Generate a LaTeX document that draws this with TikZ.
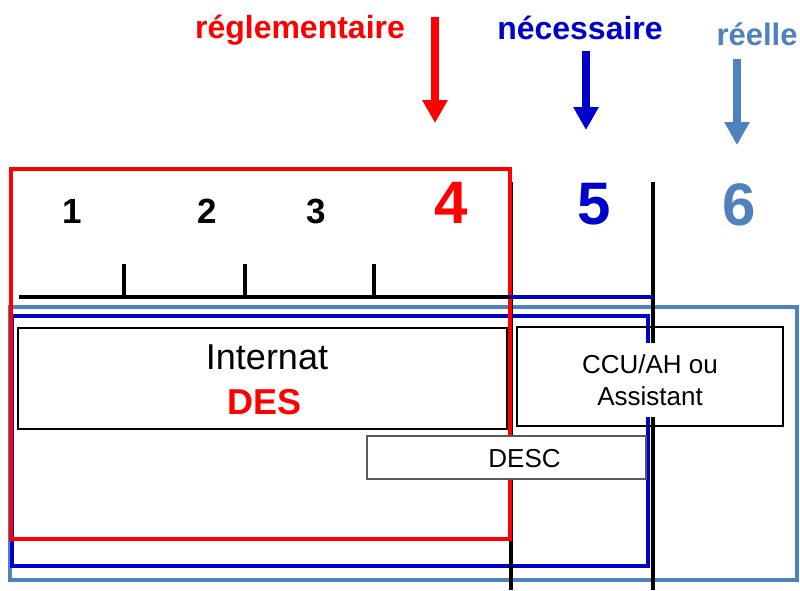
\documentclass[tikz,border=0pt]{standalone}
\usepackage{fontspec}
\setmainfont{Liberation Sans}
\usepackage{tikz}
\usetikzlibrary{arrows.meta}
\usetikzlibrary{calc}
\usepackage{xcolor}
\definecolor{myRed}{rgb}{1,0,0}
\definecolor{myBlue}{rgb}{0,0,0.8}
\definecolor{mySteel}{RGB}{79,129,189}
\tikzset{
  down arrow/.style={line width=8pt, -{Triangle[width=24pt,length=23pt]}},
  frame line/.style={line width=3.5pt},
  top label/.style={anchor=base, font=\fontsize{32}{36}\selectfont\bfseries},
  year label/.style={anchor=base, font=\fontsize{35}{40}\selectfont\bfseries},
  big year label/.style={anchor=base, font=\fontsize{60}{66}\selectfont\bfseries},
  period box/.style={draw, line width=2.5pt, inner sep=0pt},
  period text/.style={anchor=base, font=\fontsize{36}{40}\selectfont},
  small text/.style={anchor=base, font=\fontsize{26}{30}\selectfont},
}

\begin{document}
\begin{tikzpicture}[x=1pt,y=-1pt]

%%%%%%%%%%%%%%%%%%%%%%%%%%%%%%%%%%%%%%%%%%%%%%%%%%%%%%%%%%%%%% Setup
% just to have nice boundaries to the picture
\useasboundingbox (0,0) rectangle (800,590);

%%%%%%%%%%%%%%%%%%%%%%%%%%%%%%%%%%%%%%%%%%%%%%%%%%%%%%%%%%%%%% Frames
\draw[mySteel, frame line] (10,307) rectangle (797,580);
\draw[myBlue, frame line] (12,316) rectangle (648,566);
\coordinate (V4top) at (511,182);
\coordinate (V4bot) at (511,590);
\coordinate (V5top) at (653,182);
\coordinate (V5bot) at (653,590);
\draw[black, frame line] (V4top) -- (V4bot);
\draw[black, frame line] (V5top) -- (V5bot);
\draw[myRed, frame line] (11,169) rectangle (510,539);

%%%%%%%%%%%%%%%%%%%%%%%%%%%%%%%%%%%%%%%%%%%%%%%%%%%%%%%%%%%%%% Timeline
\coordinate (A0) at (19,297);
\coordinate (A4) at (510,297);
\coordinate (A5) at (653,297);
\draw[black, line width=4.5pt] (A0) -- (A4);
\draw[myBlue, line width=4.5pt] (A4) -- (A5);
\foreach \x in {124,245,374}
\draw[black, line width=3.5pt] (\x,264) -- (\x,297);

\node[year label] (y1) at (72,223) {1};
\node[year label] (y2) at (207,223) {2};
\node[year label] (y3) at (316,223) {3};
\node[big year label, myRed] (y4) at (451,223) {4};
\node[big year label, myBlue] (y5) at (594,224) {5};
\node[big year label, mySteel] (y6) at (739,225) {6};

%%%%%%%%%%%%%%%%%%%%%%%%%%%%%%%%%%%%%%%%%%%%%%%%%%%%%%%%%%%%%% Labels
\node[top label, myRed] (regl) at (300,38) {réglementaire};
\node[top label, myBlue] (nece) at (580,39) {nécessaire};
\node[top label, mySteel, font=\fontsize{31}{36}\selectfont\bfseries] (reel) at (757,45) {réelle};

\coordinate (reglA) at (435,17);
\coordinate (reglB) at (435,123);
\coordinate (neceA) at (586,51);
\coordinate (neceB) at (586,130);
\coordinate (reelA) at (737,59);
\coordinate (reelB) at (737,145);
\draw[down arrow, myRed] (reglA) -- (reglB);
\draw[down arrow, myBlue] (neceA) -- (neceB);
\draw[down arrow, mySteel] (reelA) -- (reelB);

%%%%%%%%%%%%%%%%%%%%%%%%%%%%%%%%%%%%%%%%%%%%%%%%%%%%%%%%%%%%%% Boxes
\node[period box, fill=white, minimum width=489pt, minimum height=101pt] (internat) at (262.5,378.5) {};
\node[period text] (internatTxt) at (267,369) {Internat};
\node[period text, myRed, font=\fontsize{36}{40}\selectfont\bfseries] (desTxt) at (265,414) {DES};

\node[period box, minimum width=266pt, minimum height=99pt] (ccu) at (650,376.5) {};
\node[fill=white, inner sep=0pt, minimum width=240pt, minimum height=74pt] (ccuMask) at (650,380) {};
\node[small text] (ccuTxt) at (650,373) {CCU/AH ou};
\node[small text] (assTxt) at (650,405) {Assistant};

\node[draw=black!65, line width=1.2pt, fill=white, inner sep=0pt, minimum width=279pt, minimum height=43pt] (desc) at (506.5,457.5) {};
\node[small text] (descTxt) at (524.5,467) {DESC};

\end{tikzpicture}
\end{document}
